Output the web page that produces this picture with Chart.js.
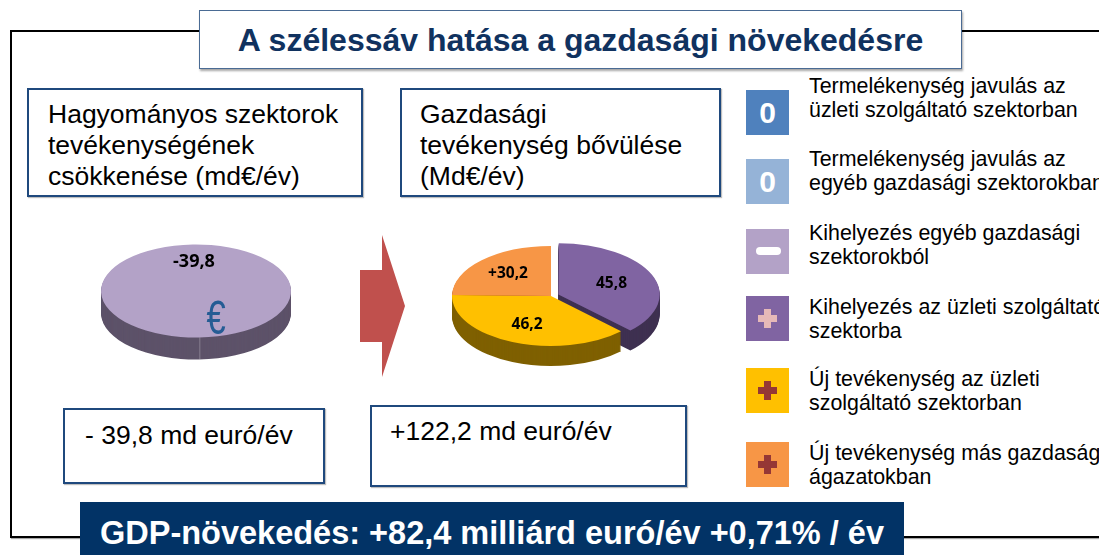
<!DOCTYPE html>
<html>
<head>
<meta charset="utf-8">
<script src="https://cdn.jsdelivr.net/npm/chart.js@4.4.1/dist/chart.umd.min.js"></script>
<style>
  body { margin: 0; width: 1099px; height: 555px; overflow: hidden; position: relative; background: #fff;
         font-family: "Liberation Sans", Arial, sans-serif; color: #000; }
  .abs { position: absolute; }
  .frame { left: 10px; top: 30px; width: 1200px; height: 504px; border: 2px solid #000; border-right: none;
           box-shadow: 1px 1px 1px rgba(0,0,0,0.35); }
  .title { left: 199px; top: 10px; width: 761px; height: 57px; border: 1.5px solid #4a6b94; background: #fff;
           box-shadow: 1px 2px 2px rgba(0,0,0,0.35); text-align: center; font-weight: bold; font-size: 32px;
           line-height: 58px; color: #10325f; white-space: nowrap; }
  .box { border: 2px solid #1f497d; background: #fff; box-shadow: 1px 1px 1px rgba(0,0,0,0.25); box-sizing: border-box; }
  .txt { font-size: 26.5px; line-height: 31px; white-space: nowrap; }
  .gdp { left: 80px; top: 502px; width: 824px; height: 60px; background: #023366; color: #fff; font-weight: bold;
         font-size: 32.5px; text-align: center; line-height: 63px; white-space: nowrap; }
  .icon { left: 746px; width: 43px; height: 45px; }
  .zero { color: #fff; font-weight: bold; font-size: 30px; text-align: center; line-height: 45px; }
  .minus { position: absolute; left: 10px; top: 18px; width: 25px; height: 8px; border-radius: 4px; background: #fff; }
  .plus::before, .plus::after { content: ""; position: absolute; background: var(--pc); }
  .plus::before { left: 12px; top: 19px; width: 19px; height: 7px; }
  .plus::after { left: 18px; top: 13px; width: 7px; height: 19px; }
  .leg { left: 809px; font-size: 21.4px; line-height: 23.5px; white-space: nowrap; }
  .euro { left: 196px; top: 290px; width: 40px; text-align: center; font-size: 48px; line-height: 56px; color: #255c94;
          transform: scaleX(0.72); }
</style>
</head>
<body>
<div class="abs frame"></div>
<div class="abs title">A szélessáv hatása a gazdasági növekedésre</div>

<div class="abs box" style="left:27px;top:88px;width:336px;height:109px;"></div>
<div class="abs txt" style="left:48px;top:99px;">Hagyományos szektorok<br>tevékenységének<br>csökkenése (md€/év)</div>
<div class="abs box" style="left:400px;top:88px;width:321px;height:109px;"></div>
<div class="abs txt" style="left:420px;top:99px;">Gazdasági<br>tevékenység bővülése<br>(Md€/év)</div>

<div class="abs box" style="left:63px;top:408px;width:262px;height:76px;"></div>
<div class="abs txt" style="left:85px;top:420px;">- 39,8 md euró/év</div>
<div class="abs box" style="left:370px;top:405px;width:317px;height:82px;"></div>
<div class="abs txt" style="left:390px;top:416px;">+122,2 md euró/év</div>

<svg class="abs" style="left:350px;top:225px;" width="70" height="160">
  <polygon points="10,45 32,45 32,10 55,81 32,152 32,117 10,117" fill="#c0504d"/>
</svg>

<canvas id="leftPie" class="abs" style="left:96px;top:191px;" width="200" height="200"></canvas>
<div class="abs euro">€</div>
<canvas id="rightPie" class="abs" style="left:431px;top:176px;" width="240" height="240"></canvas>

<div class="abs icon zero" style="top:90px;background:#4f81bd;">0</div>
<div class="abs icon zero" style="top:159px;background:#95b3d7;">0</div>
<div class="abs icon" style="top:229px;background:#b3a2c7;"><div class="minus"></div></div>
<div class="abs icon plus" style="top:296px;background:#8064a2;--pc:#e6b9b8;"></div>
<div class="abs icon plus" style="top:368px;background:#ffc000;--pc:#953735;"></div>
<div class="abs icon plus" style="top:442px;background:#f79646;--pc:#953735;"></div>

<div class="abs leg" style="top:75px;">Termelékenység javulás az<br>üzleti szolgáltató szektorban</div>
<div class="abs leg" style="top:148px;">Termelékenység javulás az<br>egyéb gazdasági szektorokban</div>
<div class="abs leg" style="top:222px;">Kihelyezés egyéb gazdasági<br>szektorokból</div>
<div class="abs leg" style="top:296px;">Kihelyezés az üzleti szolgáltató<br>szektorba</div>
<div class="abs leg" style="top:368px;">Új tevékenység az üzleti<br>szolgáltató szektorban</div>
<div class="abs leg" style="top:442px;">Új tevékenység más gazdasági<br>ágazatokban</div>

<div class="abs gdp">GDP-növekedés: +82,4 milliárd euró/év +0,71% / év</div>

<script>
// left pie: shrinking traditional sectors
const leftLabels = ['Hagyományos szektorok tevékenységének csökkenése'];
const leftValues = [39.8];
const leftValueText = ['-39,8'];
const leftColors = ['#b3a2c7'];
const leftSides = ['#5d5269'];

// right pie: growth of economic activity
const rightLabels = ['Kihelyezés az üzleti szolgáltató szektorba', 'Új tevékenység az üzleti szolgáltató szektorban', 'Új tevékenység más gazdasági ágazatokban'];
const rightValues = [45.8, 46.2, 30.2];
const rightValueText = ['45,8', '46,2', '+30,2'];
const rightColors = ['#8064a2', '#ffc000', '#f79646'];
const rightSides = ['#3f3151', '#7f6000', '#984807'];

// fake 3d: squash the pie and stack darker copies under it
const pie3d = {
    id: 'pie3d',
    beforeDatasetsDraw(chart, args, o) {
        const ctx = chart.ctx;
        const arcs = chart.getDatasetMeta(0).data;
        const cx = arcs[0].x, cy = arcs[0].y;
        ctx.save();
        ctx.translate(cx, cy);
        ctx.scale(1, o.tilt);
        ctx.translate(-cx, -cy);
        for (let d = o.depth; d > 0; d--) {
            arcs.forEach(function (arc, i) {
                const ghost = Object.create(arc);
                ghost.options = Object.assign({}, arc.options, { backgroundColor: o.sides[i], borderWidth: 0 });
                ctx.save();
                ctx.translate(0, d / o.tilt);
                ghost.draw(ctx);
                ctx.restore();
            });
        }
    },
    afterDatasetsDraw(chart, args, o) {
        const ctx = chart.ctx;
        ctx.restore();
        const arcs = chart.getDatasetMeta(0).data;
        if (o.seam) {
            const a = arcs[0];
            const sx = a.x + Math.cos(a.startAngle) * a.outerRadius;
            const sy = a.y + Math.sin(a.startAngle) * a.outerRadius * o.tilt;
            ctx.save();
            ctx.strokeStyle = 'rgba(255,255,255,0.25)';
            ctx.lineWidth = 1;
            ctx.beginPath();
            ctx.moveTo(sx + 0.5, sy);
            ctx.lineTo(sx + 0.5, sy + o.depth);
            ctx.stroke();
            ctx.restore();
        }
        ctx.save();
        ctx.font = o.font;
        ctx.fillStyle = '#000';
        ctx.textAlign = 'center';
        ctx.textBaseline = 'middle';
        arcs.forEach(function (arc, i) {
            const f = o.labelRadius[i] / 0.5;
            const p = arc.tooltipPosition();
            const x = arc.x + (p.x - arc.x) * f;
            const y = arc.y + (p.y - arc.y) * f * o.tilt;
            ctx.fillText(o.texts[i], x, y);
        });
        ctx.restore();
    }
};

new Chart(document.getElementById('leftPie'), {
    type: 'pie',
    data: {
        labels: leftLabels,
        datasets: [{ data: leftValues, backgroundColor: leftColors, borderWidth: 0 }]
    },
    options: {
        responsive: false,
        animation: false,
        events: [],
        rotation: 178,
        layout: { padding: 5 },
        plugins: {
            legend: { display: false },
            tooltip: { enabled: false },
            pie3d: { tilt: 0.49, depth: 22, sides: leftSides, texts: leftValueText, labelRadius: [0.62],
                     font: 'bold 18px "Open Sans"', seam: true }
        }
    },
    plugins: [pie3d]
});

new Chart(document.getElementById('rightPie'), {
    type: 'pie',
    data: {
        labels: rightLabels,
        datasets: [{ data: rightValues, backgroundColor: rightColors, borderWidth: 0, offset: [32, 0, 0] }]
    },
    options: {
        responsive: false,
        animation: false,
        events: [],
        rotation: 0,
        layout: { padding: 5 },
        plugins: {
            legend: { display: false },
            tooltip: { enabled: false },
            pie3d: { tilt: 0.505, depth: 20, sides: rightSides, texts: rightValueText, labelRadius: [0.5, 0.62, 0.62],
                     font: 'bold 15.5px "Open Sans"', seam: false }
        }
    },
    plugins: [pie3d]
});
</script>
</body>
</html>
